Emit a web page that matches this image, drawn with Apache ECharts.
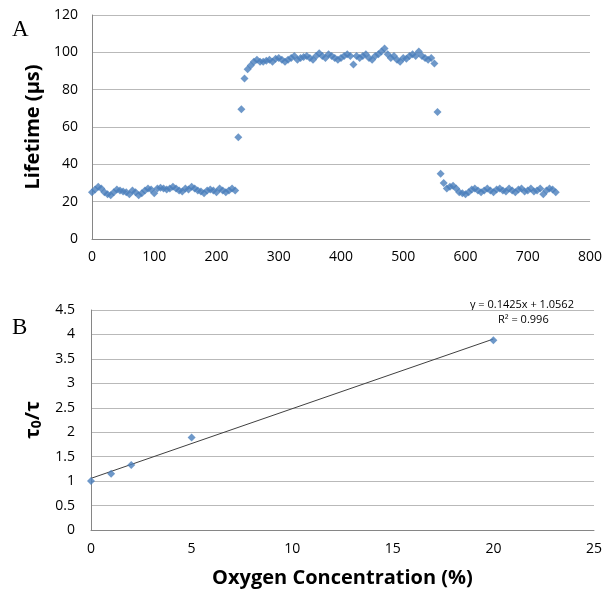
<!DOCTYPE html>
<html><head><meta charset="utf-8">
<script src="https://cdn.jsdelivr.net/npm/echarts@6/dist/echarts.min.js"></script>
<style>html,body{margin:0;padding:0;background:#fff}#c{width:605px;height:594px}</style>
</head><body><div id="c"></div>
<script>
// ---- Data ----
var sampleStep = 5; // time step between samples
var lowStart = [25,26.5,28,27,25,24,23.5,25,26.5,26, 25.5,25,24,26,25,23.5,24.5,26,27,26.5, 24.5,27,27.5,27,26.5,27,28,27,26,25.5, 27,26.5,28,27,26,25.5,24.5,26,26.5,26, 25,27,26,25,26,27,26];
var rise = [54.5,69.5,86];
var high = [91,93,95,96,95,95,95.5,96,95,96.5, 97,96,95,96,97,98,96,97,97.5,98, 97,96,98,99.5,98,97,99,98,97,96, 97,98,99,98,93.5,98,97,98,99,97, 96,98,99,100.5,102,99,97,98,96,95, 97,96.5,98,99,98,100.5,98,97,96,97, 94];
var drop = [68,35];
var lowEnd = [30,27,28,28.5,27,25,24.5,24,25,26.5, 27,26,25,26,27,26,25,26.5,27,26, 25.5,27,26,25,26.5,27,25.5,26,27,25.5, 26,27,24,26,27,26.5,25];

var oxygen = [0,1,2,5,20];
var ratio = [1,1.15,1.33,1.89,3.88];
var slope = 0.1425, intercept = 1.0562, r2 = 0.996;

var xTicksTop = [0,100,200,300,400,500,600,700,800];
var yTicksTop = [0,20,40,60,80,100,120];
var xTicksBot = [0,5,10,15,20,25];
var yTicksBot = [0,0.5,1,1.5,2,2.5,3,3.5,4,4.5];

// ---- Build ----
var lifetime = lowStart.concat(rise, high, drop, lowEnd);
var lifeData = lifetime.map(function(v,i){return [i*sampleStep, v];});
var scatterB = oxygen.map(function(x,i){return [x, ratio[i]];});
var trendX = [oxygen[0], oxygen[oxygen.length-1]];
var trend = trendX.map(function(x){return [x, slope*x+intercept];});

var blue = '#4a7ebb';
var gridColor = '#b9b9b9';
var axisColor = '#868686';
var font = '"Open Sans", Lato, sans-serif';

function valAxis(idx, ticks, extra){
  var a = {
    type:'value', gridIndex:idx, min:ticks[0], max:ticks[ticks.length-1], interval:ticks[1]-ticks[0],
    axisLine:{show:true,lineStyle:{color:axisColor,width:1}},
    axisTick:{show:false},
    splitLine:{show:false},
    axisLabel:{color:'#000',fontSize:14,fontFamily:font}
  };
  for (var k in extra) a[k]=extra[k];
  return a;
}

var chart = echarts.init(document.getElementById('c'), null, {renderer:'canvas'});
chart.setOption({
  animation:false,
  backgroundColor:'#fff',
  grid:[
    {left:92, top:15, width:498, height:224},
    {left:91, top:310, width:504, height:220}
  ],
  xAxis:[
    valAxis(0, xTicksTop, {axisLabel:{color:'#000',fontSize:14,fontFamily:font,margin:11}}),
    valAxis(1, xTicksBot, {axisLabel:{color:'#000',fontSize:14,fontFamily:font,margin:12},
      name:'Oxygen Concentration (%)', nameLocation:'middle', nameGap:38,
      nameTextStyle:{fontSize:20,fontWeight:'bold',fontFamily:font,color:'#000'}})
  ],
  yAxis:[
    valAxis(0, yTicksTop, {splitLine:{show:true,lineStyle:{color:gridColor,width:1}},
      axisLabel:{color:'#000',fontSize:14,fontFamily:font,margin:14},
      name:'Lifetime (µs)', nameLocation:'middle', nameGap:42, nameRotate:90,
      nameTextStyle:{fontSize:20,fontWeight:'bold',fontFamily:font,color:'#000'}}),
    valAxis(1, yTicksBot, {splitLine:{show:true,lineStyle:{color:gridColor,width:1}},
      axisLabel:{color:'#000',fontSize:14,fontFamily:font,margin:16},
      name:'{m|τ}{s|0}{m|/τ}', nameLocation:'middle', nameGap:43, nameRotate:90,
      nameTextStyle:{color:'#000', rich:{
        m:{fontSize:20,fontWeight:'bold',fontFamily:font,color:'#000'},
        s:{fontSize:14,fontWeight:'bold',fontFamily:font,color:'#000',verticalAlign:'bottom',padding:[8,0,0,0]}
      }}})
  ],
  series:[
    {type:'scatter', xAxisIndex:0, yAxisIndex:0, data:lifeData, symbol:'diamond', symbolSize:8,
      itemStyle:{color:blue}},
    {type:'line', xAxisIndex:1, yAxisIndex:1, data:trend, symbol:'none',
      lineStyle:{color:'#404040',width:1}, z:1},
    {type:'scatter', xAxisIndex:1, yAxisIndex:1, data:scatterB, symbol:'diamond', symbolSize:8,
      itemStyle:{color:blue}, z:3}
  ],
  graphic:[
    {type:'text', left:12, top:18, style:{text:'A', font:'23px "Liberation Serif", serif', fill:'#000'}},
    {type:'text', left:12, top:316, style:{text:'B', font:'23px "Liberation Serif", serif', fill:'#000'}},
    {type:'text', left:470, top:299, style:{text:'y = '+slope+'x + '+intercept, font:'11px '+font, fill:'#000'}},
    {type:'text', left:498, top:314, style:{text:'R² = '+r2, font:'11px '+font, fill:'#000'}}
  ]
});
</script></body></html>
